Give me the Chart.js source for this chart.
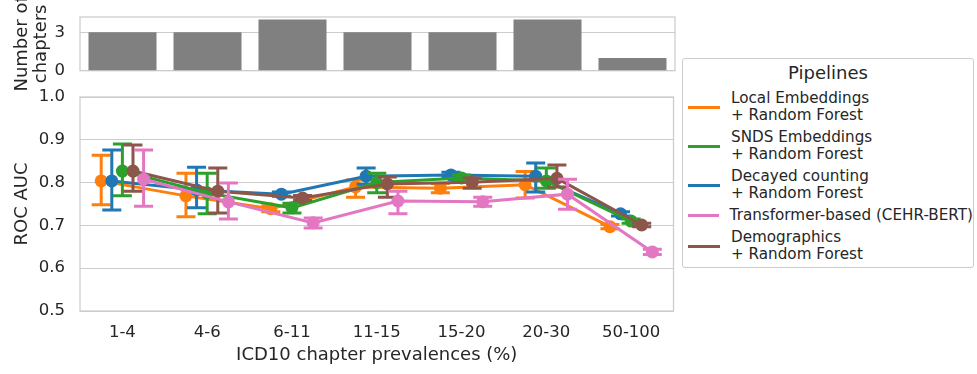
<!DOCTYPE html>
<html>
<head>
<meta charset="utf-8">
<script src="https://cdn.jsdelivr.net/npm/chart.js@4.4.1/dist/chart.umd.min.js"></script>
<style>
  html, body { margin: 0; padding: 0; background: #ffffff; }
  body { width: 977px; height: 374px; position: relative; overflow: hidden; font-family: "DejaVu Sans", sans-serif; color: #262626; }
  .box { position: absolute; left: 0; top: 0; width: 680px; }
  #mainBox { height: 374px; z-index: 1; }
  #topBox { height: 90px; z-index: 2; }
  #legend {
    position: absolute; left: 682px; top: 58px; width: 292px; height: 210px;
    border: 1px solid #cccccc; border-radius: 3px; box-sizing: border-box;
    padding-top: 3px; background: #ffffff;
  }
  #legend .title { font-size: 18px; line-height: 21px; text-align: center; margin-bottom: 7px; }
  #legend .item { display: flex; align-items: center; margin-bottom: 5px; }
  #legend .swatch { width: 32px; height: 3px; margin-left: 5px; margin-right: 11px; }
  #legend .label { font-size: 15.2px; line-height: 17px; white-space: pre; }
</style>
</head>
<body>
<div id="mainBox" class="box"><canvas id="mainChart"></canvas></div>
<div id="topBox" class="box"><canvas id="topChart"></canvas></div>
<div id="legend"></div>

<script>
// categories and tick labels
const categories = ["1-4", "4-6", "6-11", "11-15", "15-20", "20-30", "50-100"];
const chapterCounts = [3, 3, 4, 3, 3, 4, 1];
const countTicks = [0, 3];
const aucTicks = [0.5, 0.6, 0.7, 0.8, 0.9, 1.0];

// ROC AUC per pipeline (mean, lower and upper end of the error bar)
const localMean = [0.804, 0.769, 0.739, 0.790, 0.787, 0.795, 0.697];
const localLo   = [0.748, 0.720, 0.732, 0.766, 0.776, 0.764, 0.692];
const localHi   = [0.864, 0.822, 0.746, 0.806, 0.798, 0.826, 0.702];

const sndsMean = [0.827, 0.776, 0.741, 0.800, 0.811, 0.804, 0.710];
const sndsLo   = [0.769, 0.727, 0.729, 0.776, 0.804, 0.787, 0.705];
const sndsHi   = [0.890, 0.822, 0.752, 0.822, 0.818, 0.834, 0.715];

const decayMean = [0.804, 0.783, 0.773, 0.815, 0.818, 0.815, 0.727];
const decayLo   = [0.736, 0.741, 0.768, 0.796, 0.812, 0.778, 0.722];
const decayHi   = [0.876, 0.836, 0.778, 0.834, 0.824, 0.846, 0.732];

const bertMean = [0.808, 0.755, 0.706, 0.757, 0.755, 0.773, 0.638];
const bertLo   = [0.745, 0.715, 0.694, 0.727, 0.745, 0.738, 0.632];
const bertHi   = [0.876, 0.799, 0.717, 0.780, 0.766, 0.808, 0.644];

const demoMean = [0.827, 0.780, 0.764, 0.797, 0.801, 0.810, 0.701];
const demoLo   = [0.780, 0.729, 0.758, 0.766, 0.787, 0.790, 0.697];
const demoHi   = [0.888, 0.834, 0.770, 0.813, 0.811, 0.841, 0.705];

// legend order; dodge = offset inside a category, z = draw order (0 on top)
const pipelines = [
    { name: "Local Embeddings\n+ Random Forest", color: "#ff7f0e", mean: localMean, lo: localLo, hi: localHi, dodge: -0.25, z: 4 },
    { name: "SNDS Embeddings\n+ Random Forest", color: "#2ca02c", mean: sndsMean, lo: sndsLo, hi: sndsHi, dodge: 0, z: 2 },
    { name: "Decayed counting\n+ Random Forest", color: "#1f77b4", mean: decayMean, lo: decayLo, hi: decayHi, dodge: -0.125, z: 3 },
    { name: "Transformer-based (CEHR-BERT)", color: "#e377c2", mean: bertMean, lo: bertLo, hi: bertHi, dodge: 0.25, z: 0 },
    { name: "Demographics\n+ Random Forest", color: "#8c564b", mean: demoMean, lo: demoLo, hi: demoHi, dodge: 0.125, z: 1 }
];

Chart.defaults.font.family = "'DejaVu Sans', sans-serif";
Chart.defaults.color = "#262626";

const GRID = "#cccccc";

// y grid: invisible tick marks push the labels left without adding vertical padding
const yGrid = { color: GRID, lineWidth: 1, drawTicks: true, tickLength: 12, tickColor: "rgba(0,0,0,0)" };

// light grey box around the plot area
const framePlugin = {
    id: "frame",
    beforeDatasetsDraw(chart) {
        const { ctx, chartArea: a } = chart;
        ctx.save();
        ctx.strokeStyle = GRID;
        ctx.lineWidth = 1.25;
        ctx.strokeRect(a.left, a.top, a.right - a.left, a.bottom - a.top);
        ctx.restore();
    }
};

// error bars with caps, drawn right after each line
const errorBarPlugin = {
    id: "errorBars",
    afterDatasetDraw(chart, args) {
        const ds = chart.data.datasets[args.index];
        if (!ds.lo) return;
        const xs = chart.scales.x, ys = chart.scales.y, ctx = chart.ctx;
        const cap = 9.5;
        ctx.save();
        ctx.strokeStyle = ds.borderColor;
        ctx.lineWidth = 3;
        ds.data.forEach((p, i) => {
            const px = xs.getPixelForValue(p.x);
            const y0 = ys.getPixelForValue(ds.lo[i]);
            const y1 = ys.getPixelForValue(ds.hi[i]);
            ctx.beginPath();
            ctx.moveTo(px, y0); ctx.lineTo(px, y1);
            ctx.moveTo(px - cap, y0); ctx.lineTo(px + cap, y0);
            ctx.moveTo(px - cap, y1); ctx.lineTo(px + cap, y1);
            ctx.stroke();
        });
        ctx.restore();
    }
};

// --- main panel: ROC AUC point plot ---
new Chart(document.getElementById("mainChart"), {
    type: "line",
    data: {
        datasets: pipelines.map(p => ({
            label: p.name,
            data: p.mean.map((v, i) => ({ x: i + p.dodge, y: v })),
            lo: p.lo,
            hi: p.hi,
            order: p.z,
            borderColor: p.color,
            backgroundColor: p.color,
            borderWidth: 3,
            pointRadius: 6.5,
            pointBorderWidth: 0,
            pointBackgroundColor: p.color,
            tension: 0
        }))
    },
    options: {
        responsive: true,
        maintainAspectRatio: false,
        animation: false,
        layout: { padding: { left: 0, right: 5, top: 97, bottom: 0 } },
        plugins: { legend: { display: false }, tooltip: { enabled: false } },
        scales: {
            x: {
                type: "linear",
                min: -0.5,
                max: 6.5,
                afterBuildTicks: s => { s.ticks = categories.map((c, i) => ({ value: i })); },
                afterFit: s => { s.height = 63; },
                grid: { display: false, drawTicks: false },
                border: { display: false },
                ticks: {
                    padding: 12,
                    font: { size: 16.5 },
                    callback: v => categories[v]
                },
                title: {
                    display: true,
                    text: "ICD10 chapter prevalences (%)",
                    font: { size: 18 },
                    padding: { top: 0, bottom: 8.2 }
                }
            },
            y: {
                min: 0.5,
                max: 1.0,
                afterBuildTicks: s => { s.ticks = aucTicks.map(v => ({ value: v })); },
                afterFit: s => { s.width = 80; },
                grid: yGrid,
                border: { display: false },
                ticks: {
                    padding: 3,
                    font: { size: 16.5 },
                    callback: v => Number(v).toFixed(1)
                },
                title: {
                    display: true,
                    text: "ROC AUC",
                    font: { size: 18 },
                    padding: { top: 11.2, bottom: 0 }
                }
            }
        }
    },
    plugins: [framePlugin, errorBarPlugin]
});

// --- top panel: number of chapters per prevalence bin ---
new Chart(document.getElementById("topChart"), {
    type: "bar",
    data: {
        labels: categories,
        datasets: [{
            data: chapterCounts,
            backgroundColor: "#808080",
            borderWidth: 0,
            categoryPercentage: 0.8,
            barPercentage: 1.0
        }]
    },
    options: {
        responsive: true,
        maintainAspectRatio: false,
        animation: false,
        layout: { padding: { left: 0, right: 5, top: 17, bottom: 19.3 } },
        plugins: { legend: { display: false }, tooltip: { enabled: false } },
        scales: {
            x: { display: false },
            y: {
                min: 0,
                max: 4.2,
                afterBuildTicks: s => { s.ticks = countTicks.map(v => ({ value: v })); },
                afterFit: s => { s.width = 80; },
                grid: yGrid,
                border: { display: false },
                ticks: { padding: 3, font: { size: 16.5 } },
                title: {
                    display: true,
                    text: ["Number of", "chapters"],
                    font: { size: 18, lineHeight: 1.05 },
                    padding: { top: 12.5, bottom: 0 }
                }
            }
        }
    },
    plugins: [framePlugin]
});

// --- legend ---
const legendEl = document.getElementById("legend");
legendEl.innerHTML = '<div class="title">Pipelines</div>' + pipelines.map(p =>
    '<div class="item"><div class="swatch" style="background:' + p.color + '"></div>' +
    '<div class="label">' + p.name + '</div></div>'
).join("");
</script>
</body>
</html>
